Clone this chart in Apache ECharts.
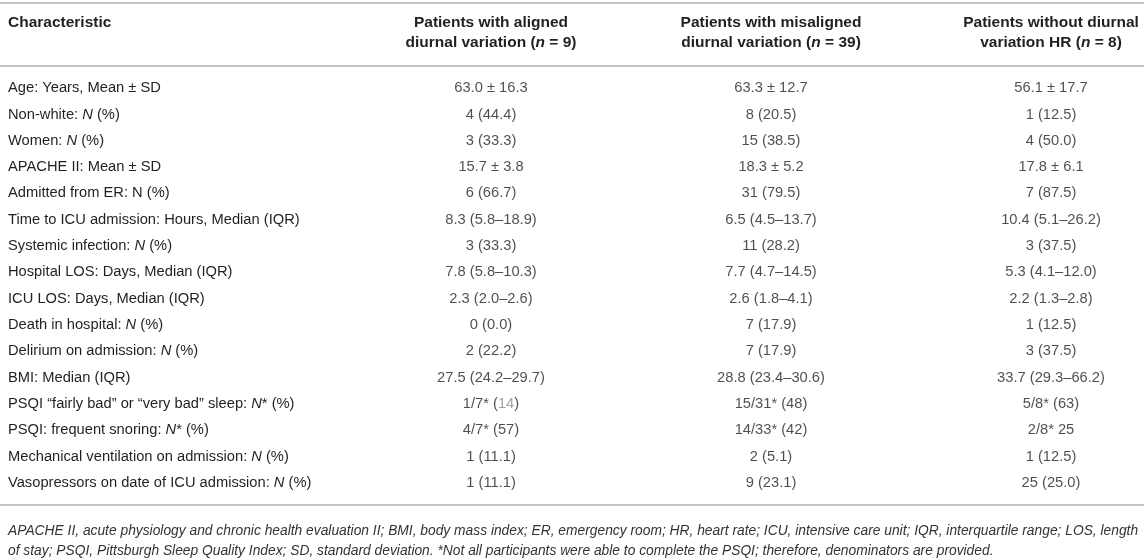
<!DOCTYPE html>
<html>
<head>
<meta charset="utf-8">
<script src="https://cdn.jsdelivr.net/npm/echarts@6/dist/echarts.min.js"></script>
<style>
  html, body { margin: 0; padding: 0; background: #fff; }
  #table { width: 1144px; height: 560px; }
</style>
</head>
<body>
<div id="table"></div>
<script>
// column headers ({n|n} = italic n)
const headers = [
  'Patients with aligned\ndiurnal variation ({n|n} = 9)',
  'Patients with misaligned\ndiurnal variation ({n|n} = 39)',
  'Patients without diurnal\nvariation HR ({n|n} = 8)'
];

// row labels ({i|N} = italic N)
const characteristics = [
  'Age: Years, Mean ± SD',
  'Non-white: {i|N} (%)',
  'Women: {i|N} (%)',
  'APACHE II: Mean ± SD',
  'Admitted from ER: N (%)',
  'Time to ICU admission: Hours, Median (IQR)',
  'Systemic infection: {i|N} (%)',
  'Hospital LOS: Days, Median (IQR)',
  'ICU LOS: Days, Median (IQR)',
  'Death in hospital: {i|N} (%)',
  'Delirium on admission: {i|N} (%)',
  'BMI: Median (IQR)',
  'PSQI “fairly bad” or “very bad” sleep: {i|N}* (%)',
  'PSQI: frequent snoring: {i|N}* (%)',
  'Mechanical ventilation on admission: {i|N} (%)',
  'Vasopressors on date of ICU admission: {i|N} (%)'
];

const aligned = [
  '63.0 ± 16.3', '4 (44.4)', '3 (33.3)', '15.7 ± 3.8', '6 (66.7)',
  '8.3 (5.8–18.9)', '3 (33.3)', '7.8 (5.8–10.3)', '2.3 (2.0–2.6)', '0 (0.0)',
  '2 (22.2)', '27.5 (24.2–29.7)', '1/7* ({g|14})', '4/7* (57)', '1 (11.1)', '1 (11.1)'
];

const misaligned = [
  '63.3 ± 12.7', '8 (20.5)', '15 (38.5)', '18.3 ± 5.2', '31 (79.5)',
  '6.5 (4.5–13.7)', '11 (28.2)', '7.7 (4.7–14.5)', '2.6 (1.8–4.1)', '7 (17.9)',
  '7 (17.9)', '28.8 (23.4–30.6)', '15/31* (48)', '14/33* (42)', '2 (5.1)', '9 (23.1)'
];

const withoutVariation = [
  '56.1 ± 17.7', '1 (12.5)', '4 (50.0)', '17.8 ± 6.1', '7 (87.5)',
  '10.4 (5.1–26.2)', '3 (37.5)', '5.3 (4.1–12.0)', '2.2 (1.3–2.8)', '1 (12.5)',
  '3 (37.5)', '33.7 (29.3–66.2)', '5/8* (63)', '2/8* 25', '1 (12.5)', '25 (25.0)'
];

const footnote =
  'APACHE II, acute physiology and chronic health evaluation II; BMI, body mass index; ER, emergency room; HR, heart rate; ICU, intensive care unit; IQR, interquartile range; LOS, length\n' +
  'of stay; PSQI, Pittsburgh Sleep Quality Index; SD, standard deviation. *Not all participants were able to complete the PSQI; therefore, denominators are provided.';

const FONT = "'Liberation Sans', Arial, Helvetica, sans-serif";
const INK = '#231f20';
const RULE = { show: true, lineStyle: { color: '#c4c4c4', width: 2 } };

const cellRich = {
  g: { color: '#8a8a8a', fontSize: 14.7, fontFamily: FONT }
};

const columns = [aligned, misaligned, withoutVariation];
const cellSeries = columns.map((col, k) => ({
  type: 'scatter',
  symbolSize: 1,
  itemStyle: { color: 'transparent' },
  silent: true,
  data: col.map((txt, i) => [k + 1, i, txt]),
  label: {
    show: true,
    position: 'inside',
    formatter: p => p.value[2],
    color: INK,
    fontSize: 14.7,
    fontFamily: FONT,
    rich: cellRich
  }
}));

const chart = echarts.init(document.getElementById('table'));
chart.setOption({
  animation: false,
  backgroundColor: '#fff',
  title: {
    text: footnote,
    left: 8,
    top: 521,
    padding: 0,
    textStyle: {
      fontFamily: FONT,
      fontStyle: 'italic',
      fontWeight: 'normal',
      fontSize: 13.8,
      lineHeight: 20,
      color: '#333'
    }
  },
  grid: { left: 0, right: 0, top: 75, bottom: 64 },
  xAxis: [
    {
      // bottom rule
      type: 'value', position: 'bottom', offset: 9,
      min: -0.7536, max: 3.3321,
      axisLine: RULE, axisTick: { show: false },
      axisLabel: { show: false }, splitLine: { show: false }
    },
    {
      // rule under the header + column headers
      type: 'value', position: 'top', offset: 9,
      min: -0.7536, max: 3.3321,
      axisLine: RULE, axisTick: { show: false }, splitLine: { show: false },
      axisLabel: {
        customValues: [1, 2, 3],
        formatter: v => headers[v - 1],
        margin: 13,
        color: INK,
        fontFamily: FONT,
        fontWeight: 'bold',
        fontSize: 15.5,
        lineHeight: 20,
        align: 'center',
        rich: {
          n: { fontStyle: 'italic', fontWeight: 'bold', fontSize: 15.5, fontFamily: FONT, color: INK }
        }
      }
    },
    {
      // top rule
      type: 'value', position: 'top', offset: 72,
      min: -0.7536, max: 3.3321,
      axisLine: RULE, axisTick: { show: false },
      axisLabel: { show: false }, splitLine: { show: false }
    }
  ],
  yAxis: {
    type: 'category',
    inverse: true,
    data: characteristics,
    axisLine: { show: false },
    axisTick: { show: false },
    splitLine: { show: false },
    axisLabel: {
      interval: 0,
      align: 'left',
      margin: -8,
      color: INK,
      fontFamily: FONT,
      fontSize: 14.7,
      rich: {
        i: { fontStyle: 'italic', fontSize: 14.7, fontFamily: FONT, color: INK }
      }
    }
  },
  graphic: [{
    // "Characteristic" heading sits over the row-label column
    type: 'text',
    left: 8,
    top: 15,
    style: { text: 'Characteristic', fill: INK, font: 'bold 15.5px ' + FONT }
  }],
  series: cellSeries
});
</script>
</body>
</html>
